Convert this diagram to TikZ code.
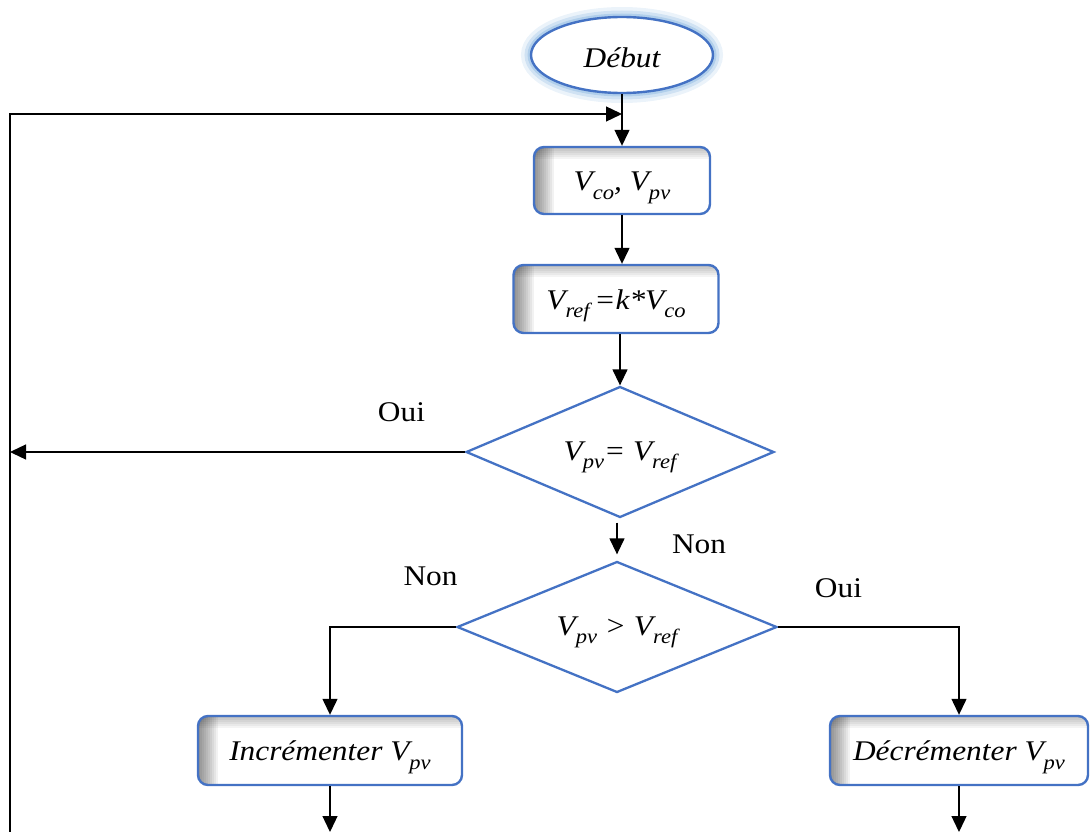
\documentclass[tikz,border=0pt]{standalone}
\usepackage{fontspec}
\setmainfont{Liberation Serif}[FakeStretch=1.1]
\usetikzlibrary{shapes.geometric,arrows.meta}
\definecolor{edgeblue}{HTML}{4472C4}
\definecolor{haloblue}{HTML}{9DC3E6}
% lowered index, e.g. V_pv
\newcommand\lowidx[1]{\raisebox{-0.3em}{\fontsize{20.5}{20.5}\selectfont #1}}
\begin{document}
\begin{tikzpicture}[x=1pt,y=-1pt,
  txt/.style={font=\fontsize{28.5}{32}\selectfont\itshape},
  answer/.style={font=\fontsize{28.5}{32}\selectfont, inner sep=0pt, anchor=base},
  arr/.style={line width=1.3pt, -{Triangle[length=16pt,width=15pt]}},
  start/.style={txt, ellipse, draw=edgeblue, line width=2.4pt, fill=white, inner sep=0pt,
    minimum width=182pt, minimum height=76pt, text height=26pt, text depth=0pt,
    preaction={draw=haloblue, line width=20pt, draw opacity=0.2},
    preaction={draw=haloblue, line width=13pt, draw opacity=0.35},
    preaction={draw=haloblue, line width=7pt, draw opacity=0.6}},
  stepbox/.style={txt, draw=edgeblue, line width=2.4pt, rounded corners=10pt, fill=white, inner sep=0pt,
    text height=20pt, text depth=0pt,
    path picture={
      % soft inner shadow along the left and top edges
      \foreach \k in {1,...,10}
        \fill[sharp corners, black, opacity=0.05]
          (path picture bounding box.north west) rectangle ([xshift=2*\k pt]path picture bounding box.south west);
      \foreach \k in {1,...,6}
        \fill[sharp corners, black, opacity=0.045]
          (path picture bounding box.north west) rectangle ([yshift=-2*\k pt]path picture bounding box.north east);
    }},
  decision/.style={txt, diamond, draw=edgeblue, line width=2.3pt, shape aspect=2.35, inner sep=0pt, fill=white,
    text height=16pt, text depth=0pt}
]
\useasboundingbox (0,0) rectangle (1090,832);

% nodes
\node[start] (begin) at (622,55) {Début};
\node[stepbox, minimum width=176pt, minimum height=67pt] (box1) at (622,180.5) {V\lowidx{co}, V\lowidx{pv}};
\node[stepbox, minimum width=205pt, minimum height=68pt] (box2) at (616,299) {V\lowidx{ref}\,=k*V\lowidx{co}};
\node[decision, minimum width=308pt, minimum height=131pt] (d1) at (620,452) {V\lowidx{pv}= V\lowidx{ref}};
\node[decision, minimum width=320pt, minimum height=131pt] (d2) at (617,627) {V\lowidx{pv} > V\lowidx{ref}};
\node[stepbox, minimum width=264pt, minimum height=69pt] (inc) at (330,750.5) {Incrémenter V\lowidx{pv}};
\node[stepbox, minimum width=258pt, minimum height=69pt] (dec) at (959,750.5) {Décrémenter V\lowidx{pv}};

% branch labels
\node[answer] (oui1) at (401.5,421) {Oui};
\node[answer] (non1) at (699,553) {Non};
\node[answer] (non2) at (430.5,585) {Non};
\node[answer] (oui2) at (838.5,597) {Oui};

% loose ends
\coordinate (loopbot) at (10,832);
\coordinate (looptop) at (622,114);
\coordinate (incout) at (330,832);

% connectors
\draw[arr] (begin.south) -- (box1.north);
\draw[arr] (loopbot) |- (looptop);
\draw[arr] (box1.south) -- (box1.south |- box2.north);
\draw[arr] (box2.south -| d1.north) -- (d1.north);
\draw[arr] (d1.west) -- (d1.west -| loopbot);
\draw[arr, shorten <=4pt, shorten >=6pt] (d1.south -| d2.north) -- (d2.north);
\draw[arr] (d2.west) -| (inc.north);
\draw[arr] (d2.east) -| (dec.north);
\draw[arr] (inc.south) -- (incout);
\draw[arr] (dec.south) -- (dec.south |- incout);
\end{tikzpicture}
\end{document}
